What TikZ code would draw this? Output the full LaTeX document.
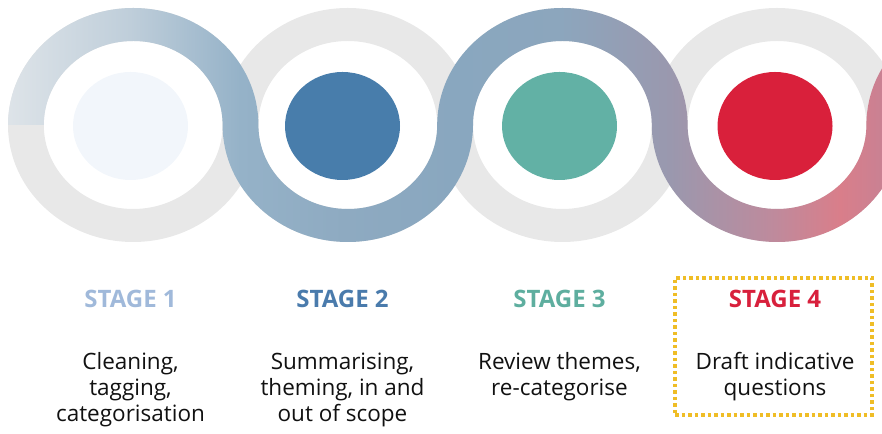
\documentclass[tikz,border=0pt]{standalone}
\usepackage{fontspec}
\setmainfont{Open Sans}
\definecolor{ringgray}{HTML}{E8E8E8}
\definecolor{gA}{HTML}{DDE3E8}
\definecolor{gB}{HTML}{BFCEDA}
\definecolor{gC}{HTML}{95B2C8}
\definecolor{gD}{HTML}{8EAAC1}
\definecolor{gE}{HTML}{89A7BF}
\definecolor{gF}{HTML}{8CA6BD}
\definecolor{gG}{HTML}{9A98AE}
\definecolor{gH}{HTML}{BF8A9C}
\definecolor{gI}{HTML}{D97E8A}
\definecolor{gJ}{HTML}{C98193}
\definecolor{dotA}{HTML}{F2F6FB}
\definecolor{dotB}{HTML}{487DAB}
\definecolor{dotC}{HTML}{62B1A5}
\definecolor{dotD}{HTML}{D9203B}
\definecolor{labA}{HTML}{A0B9DA}
\definecolor{labB}{HTML}{4A7BAC}
\definecolor{labC}{HTML}{5EAE9F}
\definecolor{labD}{HTML}{D8203C}
\definecolor{boxyellow}{HTML}{EFBD26}
\definecolor{bodytext}{HTML}{111111}
\begin{document}
\begin{tikzpicture}[x=1pt,y=1pt,
  stagelabel/.style={anchor=base,inner sep=0pt,font=\fontsize{24}{28}\selectfont\bfseries},
  stagebody/.style={anchor=base,inner sep=0pt,text=bodytext,font=\fontsize{22.5}{26}\selectfont},
]
\useasboundingbox (0,0) rectangle (882,433);
\clip (0,0) rectangle (882,433);
\def\cy{308}
\def\Rox{125.2}\def\Roy{117}
\def\Rix{89.4}\def\Riy{84}
% gray rings
\foreach \c in {133.2,347.8,562.4,777.0,991.6}{
  \fill[ringgray,even odd rule] (\c,\cy) ellipse[x radius=\Rox,y radius=\Roy]
        (\c,\cy) ellipse[x radius=\Rix,y radius=\Riy];
}
% snake band with gradient
\begin{scope}
\clip (133.2-\Rox,\cy)
  arc[start angle=180,end angle=0,x radius=\Rox,y radius=\Roy]
  arc[start angle=180,end angle=360,x radius=\Rix,y radius=\Riy]
  arc[start angle=180,end angle=0,x radius=\Rox,y radius=\Roy]
  arc[start angle=180,end angle=360,x radius=\Rix,y radius=\Riy]
  arc[start angle=180,end angle=90,x radius=\Rox,y radius=\Roy]
  -- (991.6,\cy+\Riy)
  arc[start angle=90,end angle=180,x radius=\Rix,y radius=\Riy]
  arc[start angle=360,end angle=180,x radius=\Rox,y radius=\Roy]
  arc[start angle=0,end angle=180,x radius=\Rix,y radius=\Riy]
  arc[start angle=360,end angle=180,x radius=\Rox,y radius=\Roy]
  arc[start angle=0,end angle=180,x radius=\Rix,y radius=\Riy]
  -- cycle;
\fill[gA] (0,0) rectangle (10,433);
\shade[left color=gA,right color=gB] (10,0) rectangle (130,433);
\shade[left color=gB,right color=gC] (130,0) rectangle (240,433);
\shade[left color=gC,right color=gD] (240,0) rectangle (345,433);
\shade[left color=gD,right color=gE] (345,0) rectangle (455,433);
\shade[left color=gE,right color=gF] (455,0) rectangle (560,433);
\shade[left color=gF,right color=gG] (560,0) rectangle (670,433);
\shade[left color=gG,right color=gH] (670,0) rectangle (775,433);
\shade[left color=gH,right color=gI] (775,0) rectangle (840,433);
\shade[left color=gI,right color=gJ] (840,0) rectangle (882.5,433);
\end{scope}
% inner dots
\fill[dotA] (130.5,307) ellipse[x radius=57.5,y radius=54];
\fill[dotB] (342.5,307) ellipse[x radius=57.5,y radius=54];
\fill[dotC] (559.5,307) ellipse[x radius=57.5,y radius=54];
\fill[dotD] (775,307) ellipse[x radius=57.5,y radius=54];
% labels
\node[stagelabel,text=labA] (s1) at (130.5,125) {STAGE 1};
\node[stagelabel,text=labB] (s2) at (342.5,125) {STAGE 2};
\node[stagelabel,text=labC] (s3) at (559.5,125) {STAGE 3};
\node[stagelabel,text=labD] (s4) at (775,125) {STAGE 4};
\node[stagebody] (b1) at (130.5,63) {\begin{tabular}[t]{@{}c@{}}Cleaning,\\tagging,\\categorisation\end{tabular}};
\node[stagebody] (b2) at (342.5,63) {\begin{tabular}[t]{@{}c@{}}Summarising,\\theming, in and\\out of scope\end{tabular}};
\node[stagebody] (b3) at (559.5,63) {\begin{tabular}[t]{@{}c@{}}Review themes,\\re-categorise\end{tabular}};
\node[stagebody] (b4) at (775,63) {\begin{tabular}[t]{@{}c@{}}Draft indicative\\questions\end{tabular}};
% highlight box
\node[draw=boxyellow,line width=3.5pt,dash pattern=on 3.5pt off 3pt,
      minimum width=197pt,minimum height=137pt,inner sep=0pt] (hl) at (773.5,86.5) {};
\end{tikzpicture}
\end{document}
